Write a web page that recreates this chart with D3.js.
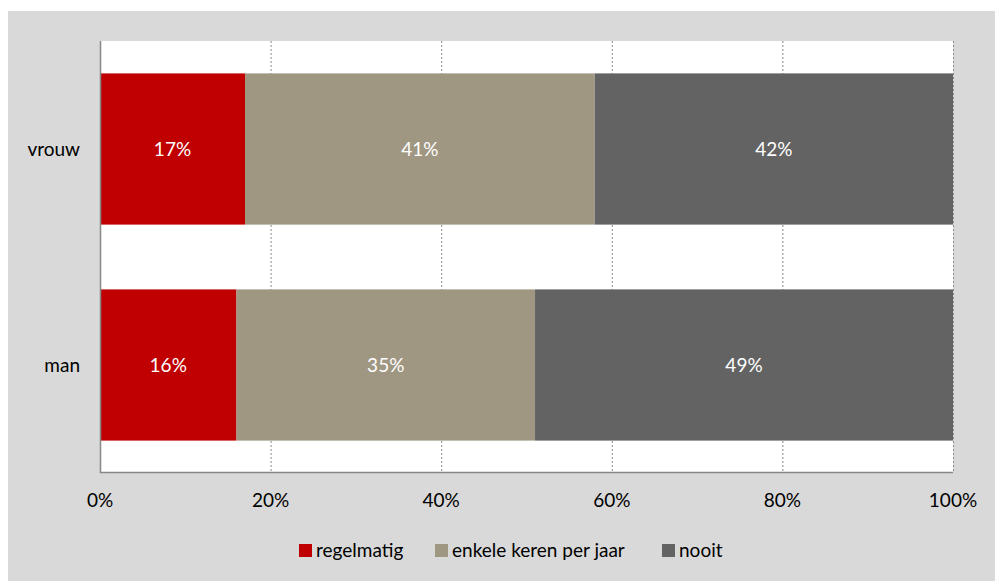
<!DOCTYPE html>
<html>
<head>
<meta charset="utf-8">
<script src="https://cdn.jsdelivr.net/npm/d3@7"></script>
<style>
  html, body { margin: 0; padding: 0; background: #ffffff; }
  svg { display: block; }
  text { font-family: Lato, "Open Sans", sans-serif; }
</style>
</head>
<body>
<svg id="chart" width="995" height="581"></svg>
<script>
// Categories (top to bottom) and the share per response per category
const categories = ["vrouw", "man"];
const seriesNames = ["regelmatig", "enkele keren per jaar", "nooit"];
const regelmatig = [17, 16];
const enkeleKeren = [41, 35];
const nooit = [42, 49];
const seriesColors = ["#c00000", "#a09783", "#636363"];
const tickValues = [0, 20, 40, 60, 80, 100];

const fontSize = 19;
const svg = d3.select("#chart");

// Frame
svg.append("rect").attr("x", 8).attr("y", 11).attr("width", 987).attr("height", 570)
  .attr("fill", "#d9d9d9");

const plot = { left: 100, right: 953, top: 41, bottom: 473 };
svg.append("rect").attr("x", plot.left).attr("y", plot.top)
  .attr("width", plot.right - plot.left).attr("height", plot.bottom - plot.top)
  .attr("fill", "#ffffff");

const x = d3.scaleLinear().domain([0, 100]).range([plot.left, plot.right]);
const y = d3.scaleBand().domain(categories).range([plot.top, plot.bottom])
  .paddingInner(0.3).paddingOuter(0.15);

// Dotted vertical gridlines
svg.append("g").selectAll("line").data(tickValues.filter(d => d > 0)).join("line")
  .attr("x1", d => x(d) + 0.5).attr("x2", d => x(d) + 0.5)
  .attr("y1", plot.top).attr("y2", plot.bottom)
  .attr("stroke", "#8c8c8c").attr("stroke-width", 1).attr("stroke-dasharray", "2,2");

// Stacked bars
const rows = categories.map((c, i) => ({
  category: c, regelmatig: regelmatig[i], enkele: enkeleKeren[i], nooit: nooit[i]
}));
const keys = ["regelmatig", "enkele", "nooit"];
const stacked = d3.stack().keys(keys)(rows);

const layers = svg.append("g").selectAll("g").data(stacked).join("g")
  .attr("fill", (d, i) => seriesColors[i]);
layers.selectAll("rect").data(d => d).join("rect")
  .attr("x", d => x(d[0])).attr("width", d => x(d[1]) - x(d[0]))
  .attr("y", d => y(d.data.category)).attr("height", y.bandwidth());

// Value labels
layers.selectAll("text").data(d => d.map(v => ({ v, key: d.key }))).join("text")
  .attr("x", d => (x(d.v[0]) + x(d.v[1])) / 2)
  .attr("y", d => y(d.v.data.category) + y.bandwidth() / 2)
  .attr("dy", "0.35em").attr("text-anchor", "middle")
  .attr("fill", "#ffffff").attr("font-size", fontSize)
  .text(d => d.v.data[d.key] + "%");

// Axes lines
svg.append("line").attr("x1", plot.left + 0.5).attr("x2", plot.left + 0.5)
  .attr("y1", plot.top).attr("y2", plot.bottom)
  .attr("stroke", "#888888").attr("stroke-width", 1.5);
svg.append("line").attr("x1", plot.left).attr("x2", plot.right)
  .attr("y1", plot.bottom - 0.5).attr("y2", plot.bottom - 0.5)
  .attr("stroke", "#888888").attr("stroke-width", 1.5);

// X tick labels
svg.append("g").selectAll("text").data(tickValues).join("text")
  .attr("x", d => x(d)).attr("y", 500).attr("dy", "0.35em")
  .attr("text-anchor", "middle").attr("font-size", fontSize).attr("fill", "#000000")
  .text(d => d + "%");

// Category labels
svg.append("g").selectAll("text").data(categories).join("text")
  .attr("x", 80).attr("y", d => y(d) + y.bandwidth() / 2).attr("dy", "0.35em")
  .attr("text-anchor", "end").attr("font-size", fontSize).attr("fill", "#000000")
  .text(d => d);

// Legend
const legendX = [299, 435, 662];
const legend = svg.append("g").selectAll("g").data(seriesNames).join("g")
  .attr("transform", (d, i) => `translate(${legendX[i]},550)`);
legend.append("rect").attr("x", 0).attr("y", -6).attr("width", 13).attr("height", 13)
  .attr("fill", (d, i) => seriesColors[i]);
legend.append("text").attr("x", 17).attr("y", 0).attr("dy", "0.35em")
  .attr("font-size", fontSize).attr("fill", "#000000").text(d => d);
</script>
</body>
</html>
